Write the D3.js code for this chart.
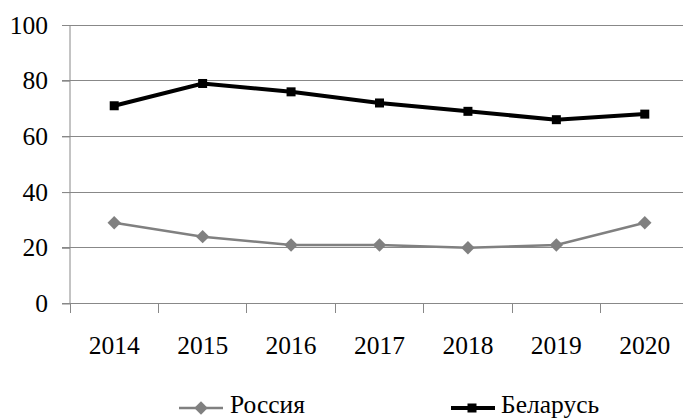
<!DOCTYPE html>
<html><head><meta charset="utf-8">
<script src="https://cdn.jsdelivr.net/npm/d3@7"></script>
<style>body{margin:0;background:#fff}svg{display:block}
svg text{font-family:"Liberation Serif","Times New Roman",serif !important;font-size:25.5px !important;fill:#000}
svg text.leg{font-size:25.5px !important}</style>
</head><body>
<svg id="c" width="683" height="420"></svg>
<script>
const years = ["2014","2015","2016","2017","2018","2019","2020"];
const russia = [29, 24, 21, 21, 20, 21, 29];
const belarus = [71, 79, 76, 72, 69, 66, 68];
const yTicks = [0, 20, 40, 60, 80, 100];
const seriesNames = ["Россия", "Беларусь"];

const svg = d3.select("#c");
const x = d3.scaleBand().domain(years).range([70, 689]);
const y = d3.scaleLinear().domain([0, 100]).range([303.5, 25]);
const grid = "#888";

// gridlines
svg.append("g").selectAll("line").data(yTicks).join("line")
  .attr("x1", 62).attr("x2", 689)
  .attr("y1", d => y(d)).attr("y2", d => y(d))
  .attr("stroke", grid).attr("stroke-width", 1).attr("shape-rendering","crispEdges");

// y axis
const ya = svg.append("g").attr("transform", "translate(70,0)")
  .call(d3.axisLeft(y).tickValues(yTicks).tickSize(8).tickPadding(14));
ya.select(".domain").attr("stroke", grid).attr("d", `M0,${y(100)}V${y(0)}`);
ya.selectAll(".tick line").attr("stroke", grid);

// x axis
const xa = svg.append("g").attr("transform", `translate(0,${y(0)})`)
  .call(d3.axisBottom(x).tickSize(0).tickPadding(32));
xa.select(".domain").remove();
// category separator ticks
svg.append("g").selectAll("line").data(years).join("line")
  .attr("x1", d => x(d)).attr("x2", d => x(d))
  .attr("y1", y(0)).attr("y2", y(0) + 9)
  .attr("stroke", grid).attr("shape-rendering","crispEdges");

const cx = d => x(d) + x.bandwidth() / 2;
const line = d3.line().x((d, i) => cx(years[i])).y(d => y(d));

svg.append("path").datum(russia).attr("d", line)
  .attr("fill", "none").attr("stroke", "#808080").attr("stroke-width", 2.5);
const diamond = d3.symbol().type(d3.symbolSquare).size(90);
svg.append("g").selectAll("path").data(russia).join("path")
  .attr("d", diamond)
  .attr("transform", (d, i) => `translate(${cx(years[i])},${y(d)}) rotate(45)`)
  .attr("fill", "#808080");

svg.append("path").datum(belarus).attr("d", line)
  .attr("fill", "none").attr("stroke", "#000").attr("stroke-width", 4);
svg.append("g").selectAll("rect").data(belarus).join("rect")
  .attr("x", (d, i) => cx(years[i]) - 4.5).attr("y", d => y(d) - 4.5)
  .attr("width", 9).attr("height", 9).attr("fill", "#000");

// legend
const ly = 408;
const lg = svg.append("g");
lg.append("line").attr("x1", 179).attr("x2", 223).attr("y1", ly).attr("y2", ly)
  .attr("stroke", "#808080").attr("stroke-width", 2.5);
lg.append("path").attr("d", diamond).attr("transform", `translate(201,${ly}) rotate(45)`).attr("fill", "#808080");
lg.append("text").attr("class","leg").attr("x", 230).attr("y", 413).text(seriesNames[0]);
lg.append("line").attr("x1", 451).attr("x2", 495).attr("y1", ly).attr("y2", ly)
  .attr("stroke", "#000").attr("stroke-width", 4);
lg.append("rect").attr("x", 467.5).attr("y", ly - 4.5).attr("width", 9).attr("height", 9).attr("fill", "#000");
lg.append("text").attr("class","leg").attr("x", 501).attr("y", 413).text(seriesNames[1]);
</script>
</body></html>
